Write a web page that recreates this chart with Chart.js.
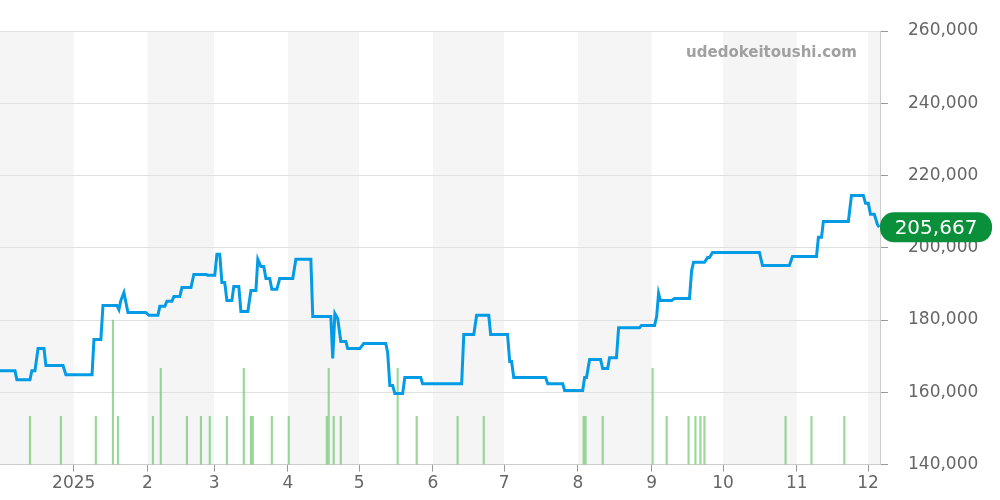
<!DOCTYPE html>
<html><head><meta charset="utf-8">
<script src="https://cdn.jsdelivr.net/npm/chart.js@4"></script>
<style>html,body{margin:0;padding:0;background:#fff}#w{width:1000px;height:500px}</style>
</head><body><div id="w"><canvas id="c"></canvas></div>
<script>
// day offsets from 2024-12-01
const priceDays = [0,6.3,7.1,12.6,13.4,14.7,16,18.5,19.3,26.5,27.7,38.7,39.5,42.4,43.3,49.2,50,50.8,52.1,53.8,61.3,62.6,66.4,67.2,69.3,70.2,72.3,73.1,75.6,76.5,80.3,81.5,86.6,87.4,90.3,91.2,92.4,93.3,94.5,95.4,97.5,98.3,100.4,101.3,104.2,105.5,107.6,108.4,109.7,110.9,111.8,113.4,114.3,116.4,117.6,123.1,124.4,130.7,131.5,139.1,139.9,140.8,142,143.3,145.4,146.2,151.3,152.9,162.2,163,163.9,165.1,166,169.3,170.2,176.9,177.7,194.1,195,199.2,200.4,205.5,206.3,213.4,214.3,215.1,216,229.4,230.3,236.6,237.4,245,245.8,246.6,247.9,252.5,253.4,255.5,256.3,259.2,260.1,268.9,269.7,275.2,276.1,276.9,277.7,282.4,283.6,289.9,290.8,291.6,296.2,297.5,298.3,299.6,319.3,320.6,331.9,333.2,343.3,344.1,345.4,346.2,356.7,358,363,363.9,365.1,366,367.6,368.9,369.7];
const priceValues = [166000,166000,163500,163500,166000,166000,172100,172100,167400,167400,164900,164900,174600,174600,184000,184000,182900,185400,187600,182100,182100,181300,181300,183800,183800,185200,185200,186500,186500,189000,189000,192600,192600,192400,192400,198200,198200,190400,190400,185400,185400,189300,189300,182400,182400,188200,188200,196800,194800,194800,191500,191500,188500,188500,191500,191500,196800,196800,181000,181000,169400,181800,180400,174100,174100,172100,172100,173500,173500,171000,161900,161900,159700,159700,164100,164100,162400,162400,176000,176000,181300,181300,176000,176000,168500,168500,164100,164100,162400,162400,160500,160500,164100,164100,169100,169100,166600,166600,169600,169600,177900,177900,178500,178500,181000,187400,185400,185400,186000,186000,193700,196000,196000,197300,197300,198700,198700,195100,195100,197600,197600,202900,202900,207300,207300,214500,214500,212300,212300,209300,209300,206500,205667];
const volDays = [12.6,25.6,40.3,47.5,49.6,64.3,67.6,78.6,84.5,88.2,95.4,102.5,105.5,106.3,114.3,121.4,137.4,138.2,140.3,143.3,167.2,175.2,192.4,203.4,245.4,246.2,253.4,274.4,280.3,289.5,292.4,294.5,296.2,330.3,341.2,355];
const volValues = [1,1,1,3,1,1,2,1,1,1,1,2,1,1,1,1,1,2,1,1,2,1,1,1,1,1,1,2,1,1,1,1,1,1,1,1];
const monthDays = [31,62,90,121,151,182,212,243,274,304,335,365];
const monthLabels = ['2025','2','3','4','5','6','7','8','9','10','11','12'];
const yTicks = [140000,160000,180000,200000,220000,240000,260000];
const lastLabel = '205,667';

const bands = {id:'bands',beforeDraw(ch){const x=ch.scales.x,a=ch.chartArea,c=ch.ctx;c.save();c.fillStyle='#f5f5f5';
 const edges=[0,...monthDays,370];for(let i=0;i<edges.length-1;i+=2){const l=x.getPixelForValue(edges[i]),r=x.getPixelForValue(Math.min(edges[i+1],370));c.fillRect(l,a.top,r-l,a.bottom-a.top);}c.restore();}};
const deco = {id:'deco',afterDraw(ch){const c=ch.ctx,a=ch.chartArea,y=ch.scales.y;c.save();
 c.font='bold 15px "DejaVu Sans"';c.fillStyle='#a0a0a0';c.textAlign='right';c.textBaseline='middle';c.fillText('udedokeitoushi.com',857,53);
 const py=y.getPixelForValue(priceValues[priceValues.length-1]);const x0=a.right,w=112,h=30;c.fillStyle='#0a8f3a';c.beginPath();c.roundRect(x0,py-h/2,w,h,14);c.fill();
 c.fillStyle='#fff';c.font='20px "DejaVu Sans"';c.textAlign='center';c.fillText(lastLabel,x0+w/2,py+1);c.restore();}};

new Chart(document.getElementById('c'),{
 data:{datasets:[
  {type:'line',data:priceDays.map((d,i)=>({x:d,y:priceValues[i]})),borderColor:'#039be5',borderWidth:3,pointRadius:0,tension:0,yAxisID:'y',order:1},
  {type:'bar',data:volDays.map((d,i)=>({x:d,y:volValues[i]})),backgroundColor:'rgba(110,200,110,0.7)',barThickness:1.5,yAxisID:'v',order:2}
 ]},
 options:{responsive:true,maintainAspectRatio:false,animation:false,
  layout:{padding:{top:31,right:0,left:0,bottom:4}},
  plugins:{legend:{display:false},tooltip:{enabled:false}},
  scales:{
   x:{type:'linear',min:0,max:370,offset:false,
    afterBuildTicks(s){s.ticks=monthDays.map(v=>({value:v}));},
    ticks:{callback:(v)=>monthLabels[monthDays.indexOf(v)],color:'#666',font:{size:17,family:'DejaVu Sans'},maxRotation:0,autoSkip:false,padding:2},
    grid:{offset:false,drawOnChartArea:false,drawTicks:true,tickLength:7,color:'#999'},border:{color:'#ccc'}},
   y:{position:'right',min:140000,max:260000,
    afterBuildTicks(s){s.ticks=yTicks.map(v=>({value:v}));},
    ticks:{color:'#666',font:{size:17,family:'DejaVu Sans'},padding:20,callback:v=>v.toLocaleString('en-US')},
    grid:{color:'#e0e0e0',tickLength:8,tickColor:'#999'},border:{color:'#ccc'},afterFit(s){s.width=120;}},
   v:{display:false,min:0,max:9}
  }},
 plugins:[bands,deco]
});
</script></body></html>
